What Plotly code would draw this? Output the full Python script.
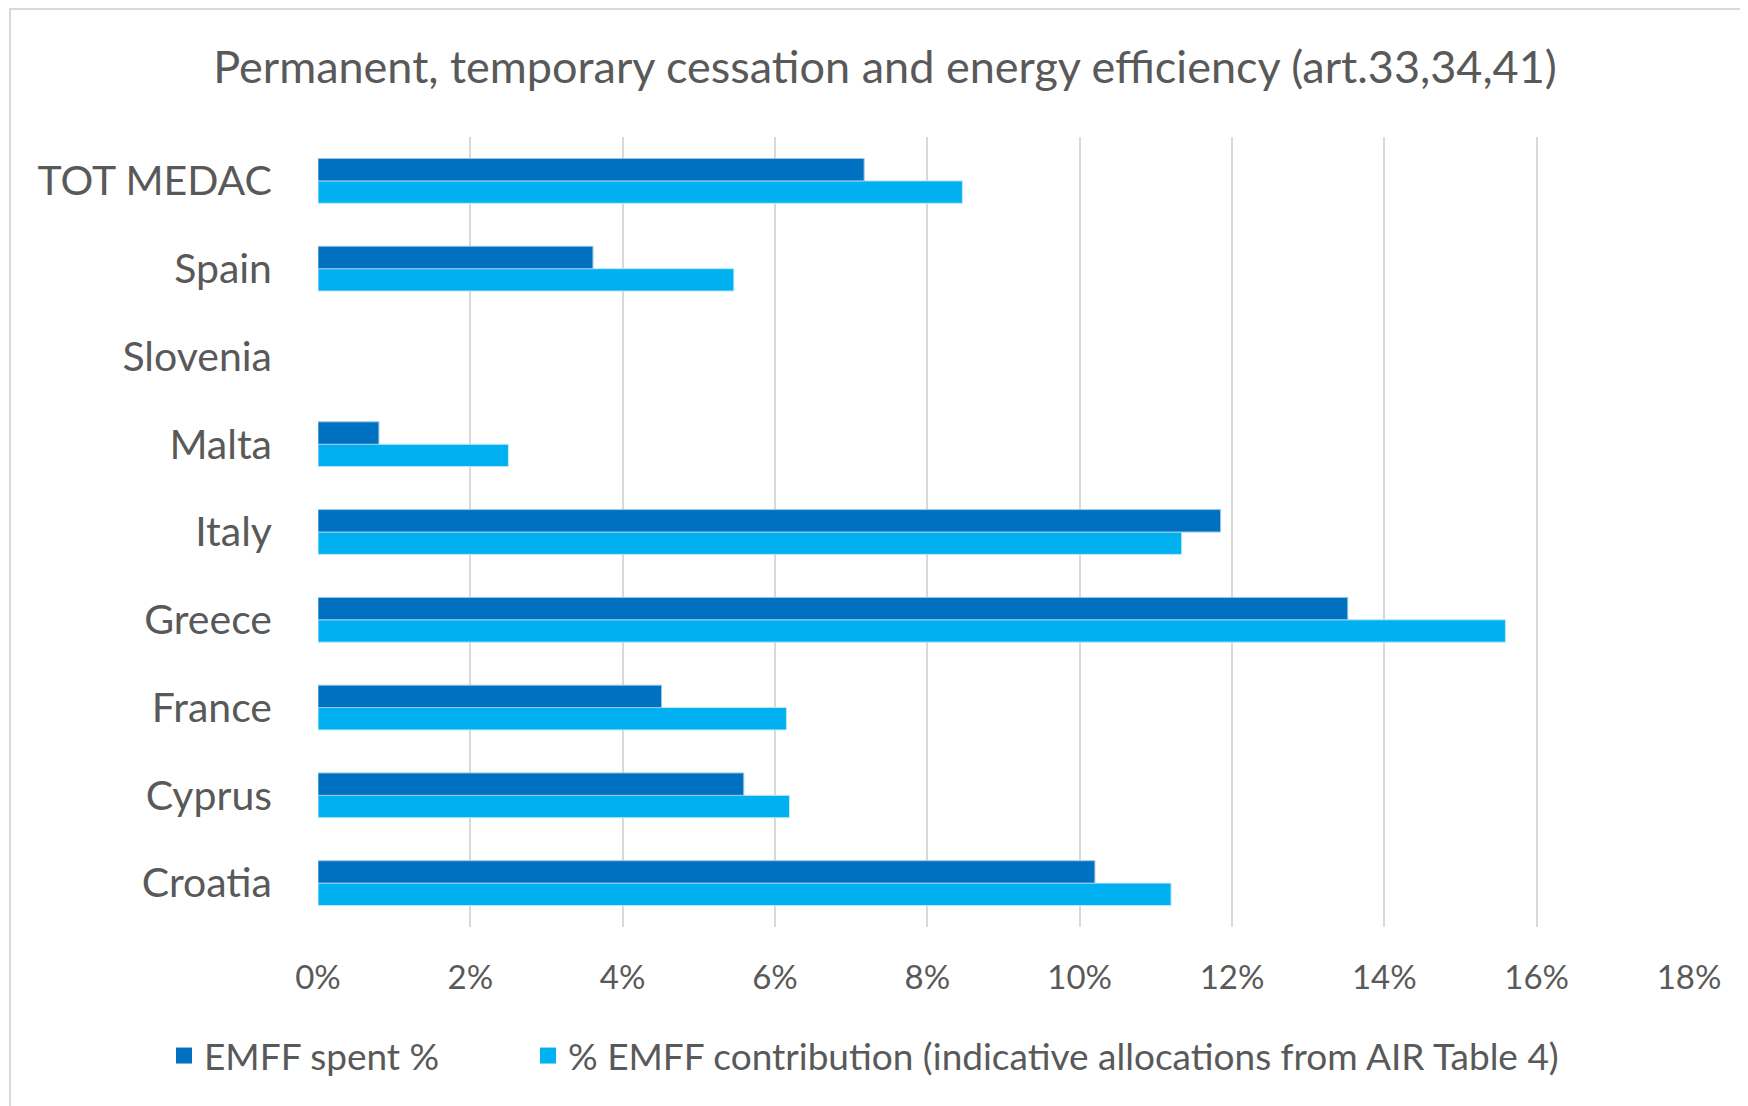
import plotly.graph_objects as go

categories = ["Croatia", "Cyprus", "France", "Greece", "Italy", "Malta", "Slovenia", "Spain", "TOT MEDAC"]
emff_spent = [0.1020, 0.0559, 0.0451, 0.1352, 0.1185, 0.0080, 0.0, 0.0361, 0.0717]
emff_contrib = [0.1120, 0.0619, 0.0615, 0.1559, 0.1134, 0.0250, 0.0, 0.0546, 0.0846]
x_ticks = [0, 0.02, 0.04, 0.06, 0.08, 0.10, 0.12, 0.14, 0.16, 0.18]
x_tick_labels = ["0%", "2%", "4%", "6%", "8%", "10%", "12%", "14%", "16%", "18%"]
series_names = ["EMFF spent %", "% EMFF contribution (indicative allocations from AIR Table 4)"]

W, H = 1748, 1106
# page body adds an 8px offset; positions below are in figure coordinates
L, R, T, B = 310, 67, 129, 187
pw, ph = W - L - R, H - T - B

FONT = "Lato"
TXT = "#595959"
DARK = "#0070C0"
LIGHT = "#00B0F0"


def lw(vals):
    return [1 if v > 0 else 0 for v in vals]


fig = go.Figure()
fig.add_trace(go.Bar(
    y=categories, x=emff_contrib, orientation="h", name=series_names[1], showlegend=False,
    marker=dict(color=LIGHT, line=dict(color="#BDE9FB", width=lw(emff_contrib))),
))
fig.add_trace(go.Bar(
    y=categories, x=emff_spent, orientation="h", name=series_names[0], showlegend=False,
    marker=dict(color=DARK, line=dict(color="#9CC6E6", width=lw(emff_spent))),
))
# legend entries (one legend box per entry so each can be placed)
for name, col, leg in zip(series_names, [DARK, LIGHT], ["legend", "legend2"]):
    fig.add_trace(go.Scatter(
        x=[None], y=[None], mode="markers", name=name, legend=leg,
        marker=dict(symbol="square", size=16, color=col),
    ))

leg_y = -(1048 - (H - B)) / ph
leg_common = dict(orientation="h", xanchor="left", y=leg_y, yanchor="middle",
                  font=dict(family=FONT, size=37, color=TXT),
                  itemwidth=30, bgcolor="rgba(0,0,0,0)")

fig.update_layout(
    width=W, height=H,
    margin=dict(l=L, r=R, t=T, b=B, pad=0),
    paper_bgcolor="white", plot_bgcolor="white",
    barmode="group", bargap=0.49, bargroupgap=0,
    title=dict(text="Permanent, temporary cessation and energy efficiency (art.33,34,41)",
               x=877 / W, xanchor="center", y=1 - 59 / H, yanchor="middle",
               font=dict(family=FONT, size=45, color=TXT)),
    xaxis=dict(range=[0, 0.18], tickvals=x_ticks, ticktext=x_tick_labels,
               showgrid=True, gridcolor="#D9D9D9", gridwidth=2,
               zeroline=False, showline=False, ticks="", ticklabelstandoff=28,
               tickfont=dict(family=FONT, size=33, color=TXT)),
    yaxis=dict(showgrid=False, zeroline=False, showline=False, ticks="",
               ticklabelstandoff=45,
               tickfont=dict(family=FONT, size=41, color=TXT)),
    legend=dict(x=(156 - L) / pw, **leg_common),
    legend2=dict(x=(520 - L) / pw, **leg_common),
    shapes=[dict(type="rect", xref="paper", yref="paper",
                 x0=(2 - L) / pw, x1=(W + 5 - L) / pw,
                 y0=-(H + 5 - (H - B)) / ph, y1=1 + (T - 1) / ph,
                 line=dict(color="#D9D9D9", width=2), fillcolor="rgba(0,0,0,0)",
                 layer="below")],
)
fig.update_xaxes(automargin=False)
fig.update_yaxes(automargin=False)

fig.write_html("out.html")
